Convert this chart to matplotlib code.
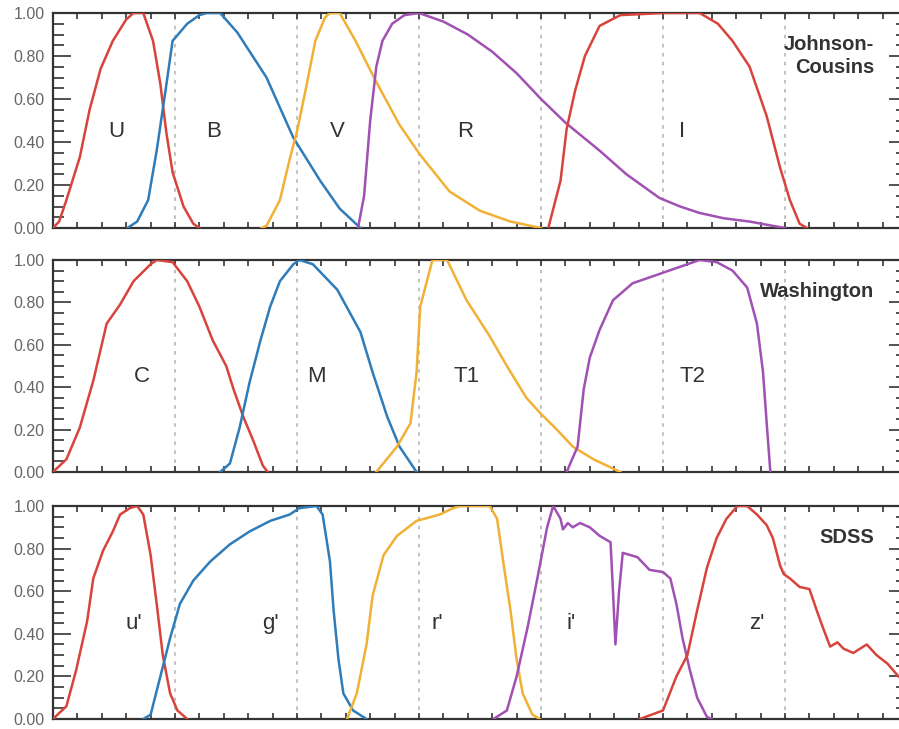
import matplotlib
matplotlib.use("Agg")
import matplotlib.pyplot as plt
from matplotlib.ticker import MultipleLocator, FixedFormatter

plt.rcParams['font.family'] = ['Liberation Sans', 'DejaVu Sans']

# ---------------- data (wavelength nm, normalized transmission) ----------------
U_wl = [300, 305, 311, 322, 330, 339, 349, 360, 366, 374, 382, 388, 393, 398, 407, 415, 420]
U_tr = [0, 0.03, 0.13, 0.33, 0.55, 0.74, 0.87, 0.97, 1.0, 1.0, 0.87, 0.67, 0.44, 0.26, 0.10, 0.02, 0]

B_wl = [361, 369, 378, 385, 393, 398, 410, 420, 426, 437, 451, 475, 497, 519, 535, 552]
B_tr = [0, 0.03, 0.13, 0.36, 0.67, 0.87, 0.95, 0.99, 1.0, 1.0, 0.91, 0.70, 0.42, 0.22, 0.09, 0.0]

V_wl = [471, 475, 486, 494, 500, 507, 515, 523, 527, 535, 548, 564, 584, 601, 625, 650, 675, 700]
V_tr = [0, 0.01, 0.13, 0.32, 0.45, 0.64, 0.87, 0.98, 1.0, 1.0, 0.87, 0.69, 0.48, 0.34, 0.17, 0.08, 0.03, 0]

R_wl = [550, 555, 560, 565, 570, 578, 588, 600, 620, 640, 660, 680, 700, 720, 748, 770, 797, 814, 830, 850, 871, 890, 900]
R_tr = [0, 0.15, 0.5, 0.75, 0.87, 0.95, 0.99, 1.0, 0.96, 0.9, 0.82, 0.72, 0.6, 0.49, 0.36, 0.25, 0.14, 0.1, 0.07, 0.045, 0.03, 0.01, 0]

I_wl = [706, 716, 721, 728, 736, 748, 765, 800, 830, 845, 857, 871, 885, 896, 904, 912, 918]
I_tr = [0, 0.22, 0.46, 0.64, 0.80, 0.94, 0.99, 1.0, 1.0, 0.95, 0.87, 0.75, 0.52, 0.28, 0.13, 0.02, 0]

C_wl = [300, 311, 322, 333, 344, 355, 366, 380, 385, 398, 410, 420, 431, 442, 448, 456, 464, 472, 476]
C_tr = [0, 0.06, 0.21, 0.43, 0.70, 0.79, 0.90, 0.98, 1.0, 0.99, 0.90, 0.78, 0.62, 0.50, 0.39, 0.26, 0.15, 0.03, 0]

M_wl = [437, 445, 453, 461, 470, 478, 486, 497, 502, 513, 533, 552, 562, 574, 584, 598]
M_tr = [0, 0.04, 0.21, 0.42, 0.62, 0.78, 0.90, 0.98, 1.0, 0.98, 0.86, 0.66, 0.47, 0.26, 0.12, 0]

T1_wl = [565, 582, 593, 598, 601, 606, 611, 623, 639, 658, 672, 688, 699, 713, 726, 743, 765]
T1_tr = [0, 0.12, 0.23, 0.47, 0.78, 0.89, 1.0, 1.0, 0.81, 0.64, 0.50, 0.35, 0.28, 0.20, 0.12, 0.06, 0]

T2_wl = [721, 730, 735, 740, 748, 759, 775, 800, 820, 830, 844, 857, 869, 877, 882, 885, 888]
T2_tr = [0, 0.12, 0.39, 0.54, 0.67, 0.81, 0.89, 0.94, 0.98, 1.0, 0.99, 0.95, 0.87, 0.70, 0.47, 0.23, 0]

u_wl = [300, 311, 319, 328, 333, 341, 349, 355, 363, 369, 374, 380, 385, 390, 396, 402, 410]
u_tr = [0, 0.06, 0.23, 0.46, 0.66, 0.79, 0.88, 0.96, 0.99, 1.0, 0.96, 0.77, 0.54, 0.30, 0.12, 0.04, 0]

g_wl = [374, 380, 388, 396, 404, 415, 429, 445, 461, 478, 494, 502, 516, 521, 527, 530, 534, 538, 546, 557]
g_tr = [0, 0.02, 0.20, 0.38, 0.54, 0.65, 0.74, 0.82, 0.88, 0.93, 0.96, 0.99, 1.0, 0.96, 0.74, 0.51, 0.28, 0.12, 0.04, 0]

r_wl = [541, 549, 557, 562, 571, 582, 598, 617, 628, 634, 658, 664, 669, 675, 680, 685, 693, 699]
r_tr = [0, 0.12, 0.35, 0.58, 0.77, 0.86, 0.93, 0.96, 0.99, 1.0, 1.0, 0.94, 0.74, 0.51, 0.28, 0.12, 0.02, 0]

i_wl = [661, 672, 680, 689, 697, 705, 710, 716, 718, 722, 726, 732, 740, 748, 757, 759, 761, 764, 767, 779, 789, 800, 806, 811, 816, 822, 828, 836, 840]
i_tr = [0, 0.04, 0.20, 0.43, 0.66, 0.90, 1.0, 0.94, 0.89, 0.92, 0.90, 0.92, 0.90, 0.86, 0.83, 0.60, 0.35, 0.60, 0.78, 0.76, 0.70, 0.69, 0.66, 0.54, 0.38, 0.23, 0.10, 0.01, 0]

z_wl = [781, 800, 811, 820, 828, 836, 844, 852, 861, 869, 877, 885, 890, 896, 899, 904, 912, 920, 926, 931, 937, 943, 948, 956, 967, 975, 984, 993, 1000]
z_tr = [0, 0.04, 0.20, 0.30, 0.51, 0.71, 0.85, 0.94, 1.0, 1.0, 0.96, 0.91, 0.85, 0.72, 0.68, 0.66, 0.62, 0.61, 0.51, 0.43, 0.34, 0.36, 0.33, 0.31, 0.35, 0.30, 0.26, 0.20, 0.17]

yticks = [0.0, 0.2, 0.4, 0.6, 0.8, 1.0]
ytick_labels = ["0.00", "0.20", "0.40", "0.60", "0.80", "1.00"]
guide_wl = [400, 500, 600, 700, 800, 900]

RED = "#d8433c"
BLUE = "#2f7cb9"
ORANGE = "#f0b135"
PURPLE = "#a150b3"

panels = [
    {"name": "Johnson-\nCousins",
     "curves": [(U_wl, U_tr, RED), (B_wl, B_tr, BLUE), (V_wl, V_tr, ORANGE), (R_wl, R_tr, PURPLE), (I_wl, I_tr, RED)],
     "labels": [("U", 352), ("B", 432), ("V", 533), ("R", 638), ("I", 816)],
     "title_y": 0.80},
    {"name": "Washington",
     "curves": [(C_wl, C_tr, RED), (M_wl, M_tr, BLUE), (T1_wl, T1_tr, ORANGE), (T2_wl, T2_tr, PURPLE)],
     "labels": [("C", 373), ("M", 516), ("T1", 639), ("T2", 824)],
     "title_y": 0.85},
    {"name": "SDSS",
     "curves": [(u_wl, u_tr, RED), (g_wl, g_tr, BLUE), (r_wl, r_tr, ORANGE), (i_wl, i_tr, PURPLE), (z_wl, z_tr, RED)],
     "labels": [("u'", 366), ("g'", 478), ("r'", 615), ("i'", 725), ("z'", 877)],
     "title_y": 0.85},
]

W, H = 899, 729
fig = plt.figure(figsize=(W / 100, H / 100), dpi=100)
fig.patch.set_facecolor("white")

# axes pixel boxes: (top, bottom)
boxes = [(13, 228), (260, 472), (506, 719)]
left_px, right_px = 53, 907

for p, (top, bot) in zip(panels, boxes):
    ax = fig.add_axes([left_px / W, 1 - bot / H, (right_px - left_px) / W, (bot - top) / H])
    ax.set_xlim(300, 1000)
    ax.set_ylim(0, 1)
    for g in guide_wl:
        ax.axvline(g, color="#bdbdbd", lw=1.3, ls=(0, (2, 3)), zorder=1)
    for wl, tr, c in p["curves"]:
        ax.plot(wl, tr, color=c, lw=1.8, zorder=3, solid_joinstyle="round")
    for lab, x in p["labels"]:
        ax.text(x, 0.45, lab, fontsize=16, color="#333333", ha="center", va="center")
    ax.text(973, p["title_y"], p["name"], fontsize=14.5, fontweight="bold", color="#333333",
            ha="right", va="center", linespacing=1.3, multialignment="right")
    ax.set_yticks(yticks)
    ax.yaxis.set_major_formatter(FixedFormatter(ytick_labels))
    ax.yaxis.set_minor_locator(MultipleLocator(0.05))
    ax.xaxis.set_major_locator(MultipleLocator(20))
    ax.tick_params(axis="x", which="major", direction="in", length=4.5, width=1.2,
                   top=True, bottom=True, labelbottom=False, color="#333333")
    ax.tick_params(axis="y", which="major", direction="in", length=13, width=1.2,
                   left=True, right=True, labelsize=11.5, labelcolor="#666666", pad=6, color="#333333")
    ax.tick_params(axis="y", which="minor", direction="in", length=8, width=1.2,
                   left=True, right=True, color="#333333")
    for s in ax.spines.values():
        s.set_color("#333333")
        s.set_linewidth(1.6)

fig.savefig("out.png", dpi=100, facecolor="white")
